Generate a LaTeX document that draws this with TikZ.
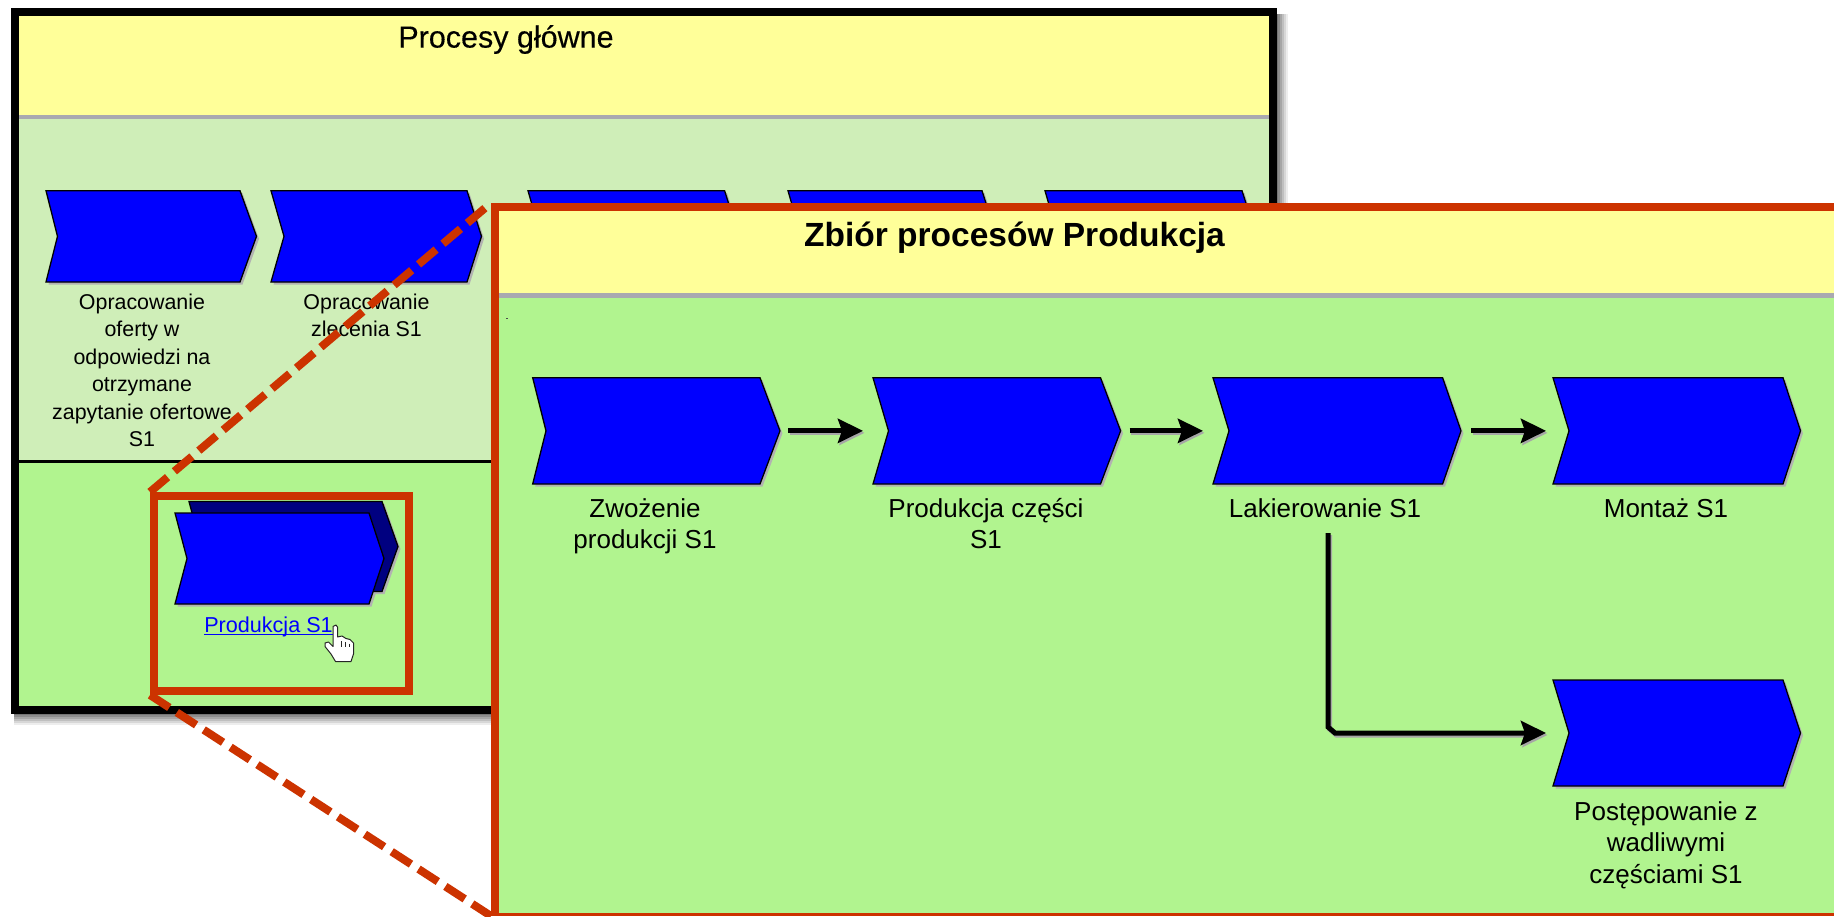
\documentclass[tikz,border=0pt]{standalone}
\usepackage{fontspec}
\setmainfont{Liberation Sans}
\newfontfamily\heavyface[FakeBold=0.35]{Liberation Sans}
\usetikzlibrary{arrows.meta}
\definecolor{ybg}{HTML}{FFFF99}
\definecolor{lgbg}{HTML}{CFEEB8}
\definecolor{gbg}{HTML}{B1F48F}
\definecolor{redc}{HTML}{CC3300}
\definecolor{bluec}{HTML}{0000FF}
\definecolor{darkb}{HTML}{000080}
\definecolor{greyl}{HTML}{A9A9B0}
\tikzset{
  chevfill/.style={fill=bluec,draw=black,line width=1.3pt,line join=miter},
  chevdark/.style={fill=darkb,draw=black,line width=1.3pt},
  chevshadow/.style={fill=black!30,draw=none},
  anchorbox/.style={inner sep=0pt,outer sep=0pt,draw=none},
  smalllab/.style={anchor=north,align=center,inner sep=0pt,text=black,font=\fontsize{21.4}{27.5}\selectfont},
  biglab/.style={anchor=north,align=center,inner sep=0pt,text=black,font=\fontsize{26}{31.6}\selectfont},
  maintitle/.style={inner sep=0pt,text=black,font=\heavyface\fontsize{30.5}{36}\selectfont},
  paneltitle/.style={inner sep=0pt,text=black,font=\bfseries\fontsize{33.5}{38}\selectfont},
  flow/.style={draw=black,line width=5pt,-{Stealth[length=25pt,width=24pt,inset=4pt]},
    preaction={draw=black!35,line width=5pt,transform canvas={xshift=1.5pt,yshift=-2pt}}},
  zoomline/.style={draw=redc,line width=8pt,dash pattern=on 23pt off 9pt},
  zoomframe/.style={draw=redc,line width=8pt,fill=none,inner sep=0pt},
}
% name, left, notch, topright, tip, top, bottom, style
\newcommand{\chevshape}[8]{%
  \pgfmathsetmacro{\cmid}{(#6+#7)/2}%
  \pgfmathsetmacro{\ccx}{(#2+#5)/2}%
  \pgfmathsetmacro{\ccy}{(#6+#7)/2}%
  \pgfmathsetmacro{\cw}{#5-#2}%
  \pgfmathsetmacro{\ch}{#7-#6}%
  \fill[chevshadow,shift={(2.5,2.5)}] (#2,#6) -- (#4,#6) -- (#5,\cmid) -- (#4,#7) -- (#2,#7) -- (#3,\cmid) -- cycle;
  \path[#8] (#2,#6) -- (#4,#6) -- (#5,\cmid) -- (#4,#7) -- (#2,#7) -- (#3,\cmid) -- cycle;
  \node[anchorbox,minimum width=\cw pt,minimum height=\ch pt] (#1) at (\ccx,\ccy) {};
}
\begin{document}
\begin{tikzpicture}[x=1pt,y=-1pt]
\useasboundingbox (0,0) rectangle (1834,916);
\fill[white] (0,0) rectangle (1834,916);
% soft shadow of the outer frame
\foreach \d/\o in {11/0.07,9/0.09,7/0.11,5/0.13,3/0.15,1/0.17}{
  \fill[black,opacity=\o] (14,14) rectangle (1277+\d,714+\d);
}
% outer frame
\fill[black] (11,8) rectangle (1277.3,713.7);
\fill[ybg] (19,16) rectangle (1269.3,115);
\fill[greyl] (19,115) rectangle (1269.3,119);
\fill[lgbg] (19,119) rectangle (1269.3,460);
\fill[black] (19,459.5) rectangle (1269.3,463);
\fill[gbg] (19,463) rectangle (1269.3,705.7);
\node[maintitle] (title1) at (506,39.5) {Procesy główne};
% top row
\chevshape{a1}{46}{57.5}{240}{256.5}{190.7}{282}{chevfill}
\chevshape{a2}{271}{284}{467}{481.5}{190.7}{282}{chevfill}
\chevshape{a3}{528}{541}{724.6}{739}{190.7}{282}{chevfill}
\chevshape{a4}{788}{801}{982}{996.5}{190.7}{282}{chevfill}
\chevshape{a5}{1045}{1058}{1242}{1256.5}{190.7}{282}{chevfill}
\node[smalllab] (la1) at (142,293.5) {Opracowanie\\oferty w\\odpowiedzi na\\otrzymane\\zapytanie ofertowe\\S1};
\node[smalllab] (la2) at (366.5,293.5) {Opracowanie\\zlecenia S1};
% stacked chevron
\fill[chevshadow] (177.5,515.5) -- (371.5,515.5) -- (386.5,561) -- (371.5,606.5) -- (177.5,606.5) -- (189.5,561) -- cycle;
\chevshape{pb}{189}{201}{382}{398}{501.5}{591.5}{chevdark}
\begin{scope}[chevshadow/.style={fill=none,draw=none}]
\chevshape{pf}{175}{187}{369}{384}{513}{604}{chevfill}
\end{scope}
\node[anchor=base,inner sep=0pt,text=bluec,font=\fontsize{21.6}{25}\selectfont] (pk) at (268.5,632) {Produkcja S1};
\draw[bluec,line width=1.2pt] ([yshift=-2.5pt]pk.base west) -- ([yshift=-2.5pt]pk.base east);
% hand cursor
\draw[black!85,fill=white,line width=1pt,line join=round] (333,626.5) -- (336,625) -- (337.5,627) -- (337.5,637) -- (342,636) -- (346,638.5) -- (350,639.5) -- (353.5,643) -- (353.5,654) -- (351,661.5) -- (335.5,661.5) -- (331,654) -- (325,646.5) -- (325,643) -- (328.5,642) -- (333,646.5) -- cycle;
\draw[black!85,line width=.8pt] (341.5,641) -- (341.5,647) (345.5,642) -- (345.5,647) (349.5,643.5) -- (349.5,647);
% zoom frame on the small chevron
\node[zoomframe,minimum width=255pt,minimum height=195pt] (zoombox) at (281.5,593.5) {};
% detail panel
\node[anchorbox,minimum width=1343pt,minimum height=713pt] (panel) at (1162.5,559.5) {};
\draw[zoomline] (zoombox.north west) -- (panel.north west);
\draw[zoomline] (zoombox.south west) -- (panel.south west);
\fill[ybg] (499,211) rectangle (1834,293);
\fill[greyl] (499,293) rectangle (1834,298);
\fill[gbg] (499,298) rectangle (1834,913);
\fill[redc] (491,203) rectangle (1834,211);
\fill[redc] (491,203) rectangle (499,916);
\fill[redc] (491,913) rectangle (1834,916);
\node[paneltitle] (title2) at (1014.5,238) {Zbiór procesów Produkcja};
\fill[black!70] (506.3,317.5) rectangle (507.8,319);
% detail chevrons
\chevshape{c1}{532.7}{546}{760}{780}{377.7}{484}{chevfill}
\chevshape{c2}{873}{888.5}{1100.5}{1120.6}{377.7}{484}{chevfill}
\chevshape{c3}{1213}{1229}{1442.6}{1461}{377.7}{484}{chevfill}
\chevshape{c4}{1553}{1569}{1783}{1800.5}{377.7}{484}{chevfill}
\chevshape{c5}{1553}{1569}{1783}{1800.5}{680}{786}{chevfill}
\node[biglab] (l1) at (645,498) {Zwożenie\\produkcji S1};
\node[biglab] (l2) at (986,498) {Produkcja części\\S1};
\node[biglab] (l3) at (1325,498) {Lakierowanie S1};
\node[biglab] (l4) at (1666,498) {Montaż S1};
\node[biglab] (l5) at (1666,801) {Postępowanie z\\wadliwymi\\częściami S1};
% connectors
\draw[flow,shorten <=8pt,shorten >=10pt] (c1.east) -- (c2.west);
\draw[flow,shorten <=9pt,shorten >=10pt] (c2.east) -- (c3.west);
\draw[flow,shorten <=10pt,shorten >=7pt] (c3.east) -- (c4.west);
\coordinate (elbowstart) at (1328,533);
\coordinate (elbowa) at (1328,727);
\coordinate (elbowb) at (1335,733);
\draw[flow,line join=miter,shorten >=7pt] (elbowstart) -- (elbowa) -- (elbowb) -- (c5.west);
\end{tikzpicture}
\end{document}
